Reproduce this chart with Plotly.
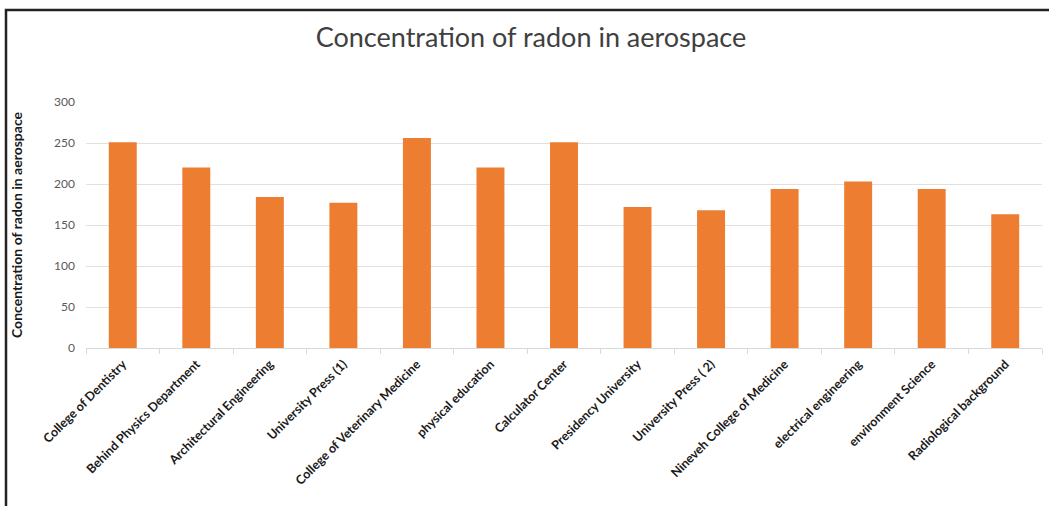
import plotly.graph_objects as go

categories = [
    "College of Dentistry",
    "Behind Physics Department",
    "Architectural Engineering",
    "University Press (1)",
    "College of Veterinary Medicine",
    "physical education",
    "Calculator Center",
    "Presidency University",
    "University Press ( 2)",
    "Nineveh College of Medicine",
    "electrical engineering",
    "environment Science",
    "Radiological background",
]
values = [251, 220, 184, 177, 256, 220, 251, 172, 168, 194, 203, 194, 163]

title_text = "Concentration of radon in aerospace"
y_title = "Concentration of radon in aerospace"
y_ticks = [0, 50, 100, 150, 200, 250, 300]

W, H = 1049, 506
ml, mr, mt, mb = 86, 7, 102, 158
pw = W - ml - mr
ph = H - mt - mb

def px_to_paper_x(px):
    return (px - ml) / pw

def px_to_paper_y(py):
    return (H - mb - py) / ph

fig = go.Figure()
fig.add_trace(go.Bar(
    x=categories,
    y=values,
    marker=dict(color="#ED7D31", line=dict(width=0)),
    width=0.38,
))

fig.update_layout(
    width=W, height=H,
    margin=dict(l=ml, r=mr, t=mt, b=mb),
    paper_bgcolor="white",
    plot_bgcolor="white",
    showlegend=False,
    font=dict(family="Lato, Noto Sans, sans-serif"),
    title=dict(
        text=title_text,
        x=px_to_paper_x(531), xref="paper", xanchor="center",
        y=1 - 38 / H, yref="container", yanchor="middle",
        font=dict(size=27, color="#404040", family="Lato, Noto Sans, sans-serif"),
    ),
    xaxis=dict(
        tickangle=-45,
        tickfont=dict(size=12.5, color="#1a1a1a", family="Lato, sans-serif", weight="bold"),
        showgrid=False,
        showline=True, linecolor="#d9d9d9", linewidth=1,
        ticks="outside", tickson="boundaries", ticklen=5, tickcolor="#d9d9d9",
        ticklabelstandoff=3,
        range=[-0.5, len(categories) - 0.5],
    ),
    yaxis=dict(
        range=[0, 300],
        tickvals=y_ticks,
        tickfont=dict(size=12, color="#595959", family="Lato, sans-serif"),
        showgrid=True, gridcolor="#e0e0e0", gridwidth=1,
        zeroline=False,
        showline=False,
        ticks="",
        ticklabelstandoff=10,
        title=dict(
            text=y_title,
            font=dict(size=14, color="#1a1a1a", family="Lato, sans-serif", weight="bold"),
            standoff=28,
        ),
    ),
    shapes=[
        dict(
            type="rect", xref="paper", yref="paper",
            x0=px_to_paper_x(6), x1=px_to_paper_x(1070),
            y0=px_to_paper_y(530), y1=px_to_paper_y(10),
            line=dict(color="#222222", width=2.5),
            fillcolor="rgba(0,0,0,0)",
            layer="above",
        )
    ],
)

fig.write_html(
    "out.html",
    config={"displayModeBar": False},
    post_script="document.body.style.margin='0px';document.body.style.overflow='hidden';",
)
